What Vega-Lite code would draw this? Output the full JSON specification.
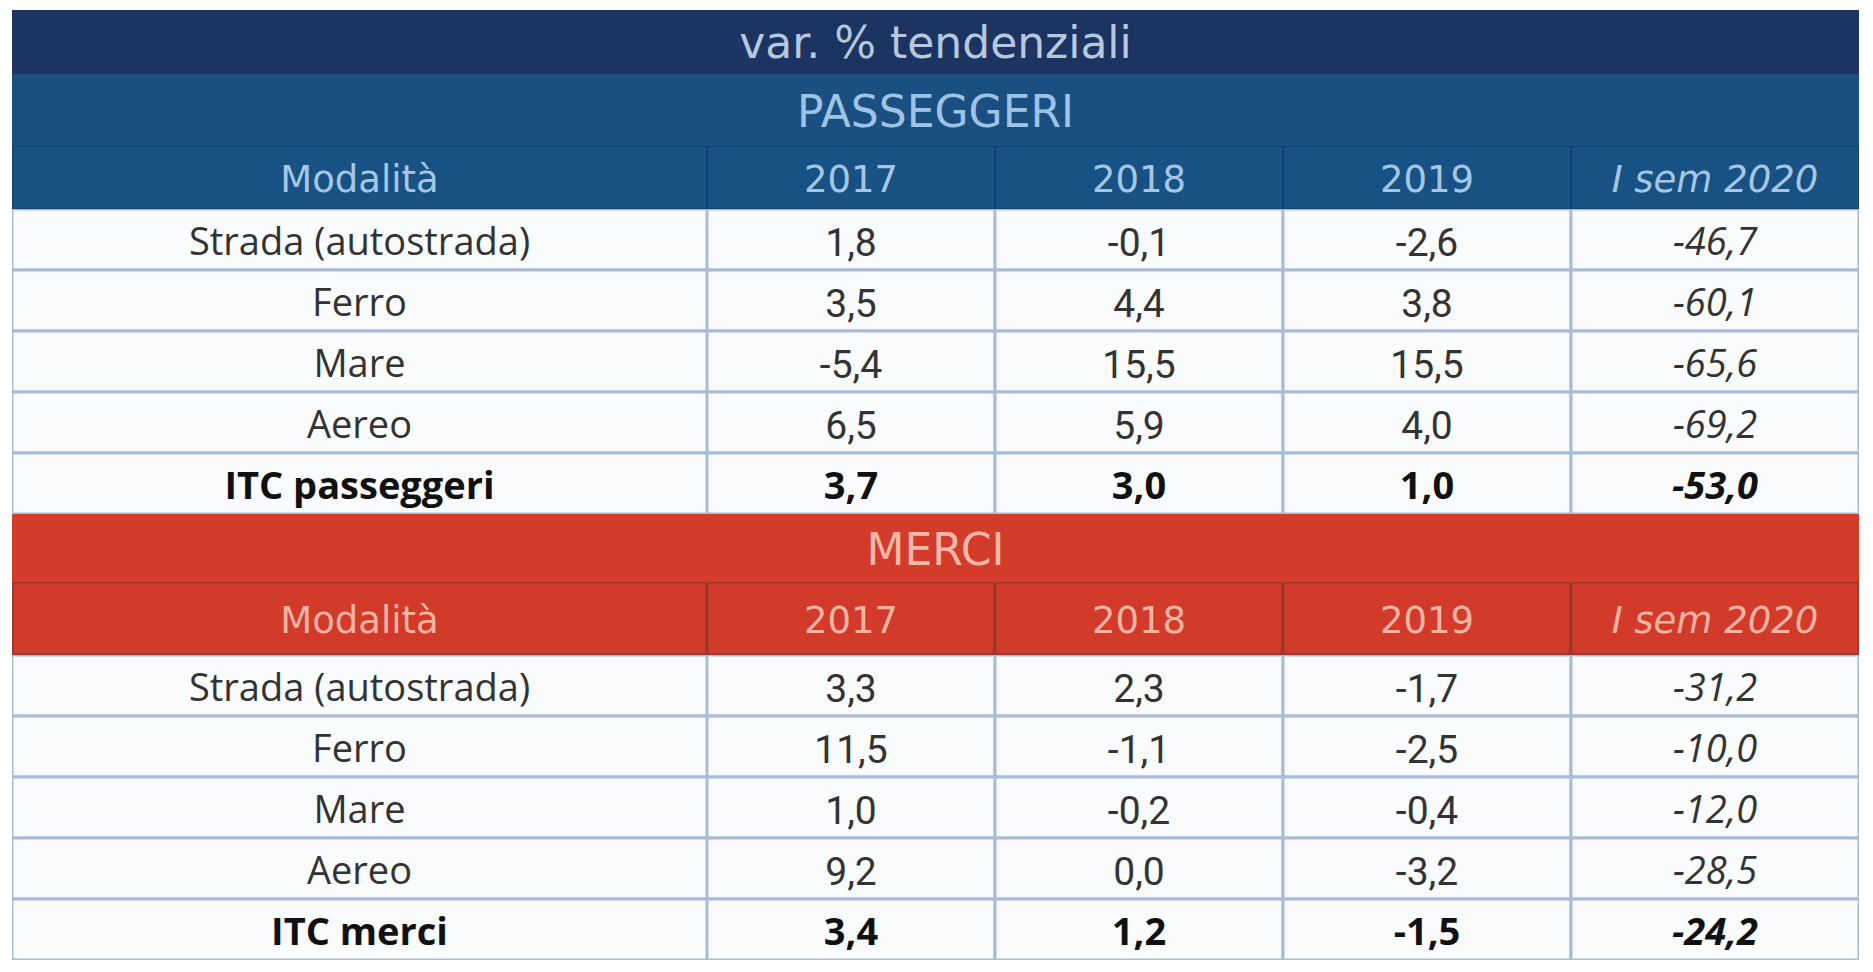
{
  "$schema": "https://vega.github.io/schema/vega-lite/v6.json",
  "background": "#ffffff",
  "padding": {"left": 12, "top": 10, "right": 0, "bottom": 0},
  "datasets": {
    "tab": [
      {"s": "P", "modo": "Strada (autostrada)", "anno": "2017", "v": 1.8},
      {"s": "P", "modo": "Strada (autostrada)", "anno": "2018", "v": -0.1},
      {"s": "P", "modo": "Strada (autostrada)", "anno": "2019", "v": -2.6},
      {"s": "P", "modo": "Strada (autostrada)", "anno": "I sem 2020", "v": -46.7},
      {"s": "P", "modo": "Ferro", "anno": "2017", "v": 3.5},
      {"s": "P", "modo": "Ferro", "anno": "2018", "v": 4.4},
      {"s": "P", "modo": "Ferro", "anno": "2019", "v": 3.8},
      {"s": "P", "modo": "Ferro", "anno": "I sem 2020", "v": -60.1},
      {"s": "P", "modo": "Mare", "anno": "2017", "v": -5.4},
      {"s": "P", "modo": "Mare", "anno": "2018", "v": 15.5},
      {"s": "P", "modo": "Mare", "anno": "2019", "v": 15.5},
      {"s": "P", "modo": "Mare", "anno": "I sem 2020", "v": -65.6},
      {"s": "P", "modo": "Aereo", "anno": "2017", "v": 6.5},
      {"s": "P", "modo": "Aereo", "anno": "2018", "v": 5.9},
      {"s": "P", "modo": "Aereo", "anno": "2019", "v": 4.0},
      {"s": "P", "modo": "Aereo", "anno": "I sem 2020", "v": -69.2},
      {"s": "P", "modo": "ITC passeggeri", "anno": "2017", "v": 3.7},
      {"s": "P", "modo": "ITC passeggeri", "anno": "2018", "v": 3.0},
      {"s": "P", "modo": "ITC passeggeri", "anno": "2019", "v": 1.0},
      {"s": "P", "modo": "ITC passeggeri", "anno": "I sem 2020", "v": -53.0},
      {"s": "M", "modo": "Strada (autostrada)", "anno": "2017", "v": 3.3},
      {"s": "M", "modo": "Strada (autostrada)", "anno": "2018", "v": 2.3},
      {"s": "M", "modo": "Strada (autostrada)", "anno": "2019", "v": -1.7},
      {"s": "M", "modo": "Strada (autostrada)", "anno": "I sem 2020", "v": -31.2},
      {"s": "M", "modo": "Ferro", "anno": "2017", "v": 11.5},
      {"s": "M", "modo": "Ferro", "anno": "2018", "v": -1.1},
      {"s": "M", "modo": "Ferro", "anno": "2019", "v": -2.5},
      {"s": "M", "modo": "Ferro", "anno": "I sem 2020", "v": -10.0},
      {"s": "M", "modo": "Mare", "anno": "2017", "v": 1.0},
      {"s": "M", "modo": "Mare", "anno": "2018", "v": -0.2},
      {"s": "M", "modo": "Mare", "anno": "2019", "v": -0.4},
      {"s": "M", "modo": "Mare", "anno": "I sem 2020", "v": -12.0},
      {"s": "M", "modo": "Aereo", "anno": "2017", "v": 9.2},
      {"s": "M", "modo": "Aereo", "anno": "2018", "v": 0.0},
      {"s": "M", "modo": "Aereo", "anno": "2019", "v": -3.2},
      {"s": "M", "modo": "Aereo", "anno": "I sem 2020", "v": -28.5},
      {"s": "M", "modo": "ITC merci", "anno": "2017", "v": 3.4},
      {"s": "M", "modo": "ITC merci", "anno": "2018", "v": 1.2},
      {"s": "M", "modo": "ITC merci", "anno": "2019", "v": -1.5},
      {"s": "M", "modo": "ITC merci", "anno": "I sem 2020", "v": -24.2}
    ],
    "anni": [{"anno": "2017"}, {"anno": "2018"}, {"anno": "2019"}, {"anno": "I sem 2020"}]
  },
  "spacing": 0,
  "vconcat": [
    {
      "width": 1847, "height": 64,
      "data": {"values": [{"t": "var. % tendenziali"}]},
      "layer": [
        {"mark": {"type": "rect", "fill": "#1c3462", "clip": true}, "encoding": {}},
        {"mark": {"type": "text", "font": "DejaVu Sans", "fontSize": 44, "fill": "#b7c8dc", "baseline": "middle", "dy": 3}, "encoding": {"text": {"field": "t"}}}
      ]
    },
    {
      "width": 1847, "height": 72,
      "data": {"values": [{"t": "PASSEGGERI"}]},
      "layer": [
        {"mark": {"type": "rect", "fill": "#1a4f81", "clip": true}, "encoding": {}},
        {"mark": {"type": "text", "font": "DejaVu Sans", "fontSize": 44, "fill": "#9ec3e5", "baseline": "middle", "dy": 4}, "encoding": {"text": {"field": "t"}}}
      ]
    },
    {
      "spacing": 0,
      "bounds": "flush",
      "hconcat": [
        {
          "width": 695, "height": 63,
          "data": {"values": [{"h": "Modalità"}]},
          "layer": [
            {"mark": {"type": "rect", "fill": "#185285", "stroke": "#123f6d", "strokeWidth": 2, "clip": true}, "encoding": {}},
            {"mark": {"type": "text", "font": "DejaVu Sans", "fontSize": 37, "fill": "#a6c7e3", "baseline": "middle", "dy": 3}, "encoding": {"text": {"field": "h"}}}
          ]
        },
        {
          "width": 1152, "height": 63,
          "data": {"name": "anni"},
          "encoding": {"x": {"field": "anno", "type": "nominal", "axis": null, "scale": {"domain": ["2017", "2018", "2019", "I sem 2020"], "paddingInner": 0, "paddingOuter": 0}}},
          "layer": [
            {"mark": {"type": "rect", "fill": "#185285", "stroke": "#123f6d", "strokeWidth": 2, "clip": true}},
            {"transform": [{"filter": "datum.anno !== 'I sem 2020'"}], "mark": {"type": "text", "font": "DejaVu Sans", "fontSize": 37, "fill": "#a6c7e3", "baseline": "middle", "dy": 3}, "encoding": {"text": {"field": "anno"}}},
            {"transform": [{"filter": "datum.anno === 'I sem 2020'"}], "mark": {"type": "text", "font": "DejaVu Sans", "fontSize": 37, "fontStyle": "italic", "fill": "#a6c7e3", "baseline": "middle", "dy": 3}, "encoding": {"text": {"field": "anno"}}}
          ]
        }
      ]
    },
    {
      "spacing": 0,
      "bounds": "flush",
      "hconcat": [
        {
          "width": 695, "height": 305,
          "data": {"name": "tab"},
          "transform": [{"filter": "datum.s === 'P' && datum.anno === '2017'"}],
          "encoding": {"y": {"field": "modo", "type": "nominal", "axis": null, "scale": {"domain": ["Strada (autostrada)", "Ferro", "Mare", "Aereo", "ITC passeggeri"], "paddingInner": 0, "paddingOuter": 0}}},
          "layer": [
            {"mark": {"type": "rect", "fill": "#fafbfd", "stroke": "#a8bcd6", "strokeWidth": 3, "clip": true}},
            {"transform": [{"filter": "indexof(datum.modo, 'ITC') !== 0"}], "mark": {"type": "text", "font": "Open Sans", "fontSize": 38, "fill": "#333333", "baseline": "middle", "dy": 4}, "encoding": {"text": {"field": "modo"}}},
            {"transform": [{"filter": "indexof(datum.modo, 'ITC') === 0"}], "mark": {"type": "text", "font": "Open Sans", "fontSize": 38, "fontWeight": "bold", "fill": "#111111", "baseline": "middle", "dy": 4}, "encoding": {"text": {"field": "modo"}}}
          ]
        },
        {
          "width": 1152, "height": 305,
          "data": {"name": "tab"},
          "transform": [{"filter": "datum.s === 'P'"}],
          "encoding": {
            "x": {"field": "anno", "type": "nominal", "axis": null, "scale": {"domain": ["2017", "2018", "2019", "I sem 2020"], "paddingInner": 0, "paddingOuter": 0}},
            "y": {"field": "modo", "type": "nominal", "axis": null, "scale": {"domain": ["Strada (autostrada)", "Ferro", "Mare", "Aereo", "ITC passeggeri"], "paddingInner": 0, "paddingOuter": 0}}
          },
          "layer": [
            {"mark": {"type": "rect", "fill": "#fafbfd", "stroke": "#a8bcd6", "strokeWidth": 3, "clip": true}},
            {"transform": [{"filter": "datum.anno !== 'I sem 2020' && indexof(datum.modo, 'ITC') !== 0"}], "mark": {"type": "text", "font": "Roboto", "fontSize": 39, "fill": "#333333", "baseline": "middle", "dy": 4}, "encoding": {"text": {"field": "v", "type": "quantitative", "format": ".1f"}}},
            {"transform": [{"filter": "datum.anno === 'I sem 2020' && indexof(datum.modo, 'ITC') !== 0"}], "mark": {"type": "text", "font": "Open Sans", "fontSize": 38, "fontStyle": "italic", "fill": "#333333", "baseline": "middle", "dy": 4}, "encoding": {"text": {"field": "v", "type": "quantitative", "format": ".1f"}}},
            {"transform": [{"filter": "datum.anno !== 'I sem 2020' && indexof(datum.modo, 'ITC') === 0"}], "mark": {"type": "text", "font": "Open Sans", "fontSize": 38, "fontWeight": "bold", "fill": "#111111", "baseline": "middle", "dy": 4}, "encoding": {"text": {"field": "v", "type": "quantitative", "format": ".1f"}}},
            {"transform": [{"filter": "datum.anno === 'I sem 2020' && indexof(datum.modo, 'ITC') === 0"}], "mark": {"type": "text", "font": "Open Sans", "fontSize": 38, "fontWeight": "bold", "fontStyle": "italic", "fill": "#111111", "baseline": "middle", "dy": 4}, "encoding": {"text": {"field": "v", "type": "quantitative", "format": ".1f"}}}
          ]
        }
      ]
    },
    {
      "width": 1847, "height": 68,
      "data": {"values": [{"t": "MERCI"}]},
      "layer": [
        {"mark": {"type": "rect", "fill": "#d33b2a", "clip": true}, "encoding": {}},
        {"mark": {"type": "text", "font": "DejaVu Sans", "fontSize": 44, "fill": "#f4b8a9", "baseline": "middle", "dy": 4}, "encoding": {"text": {"field": "t"}}}
      ]
    },
    {
      "spacing": 0,
      "bounds": "flush",
      "hconcat": [
        {
          "width": 695, "height": 73,
          "data": {"values": [{"h": "Modalità"}]},
          "layer": [
            {"mark": {"type": "rect", "fill": "#d23a29", "stroke": "#9a3530", "strokeWidth": 3, "clip": true}, "encoding": {}},
            {"mark": {"type": "text", "font": "DejaVu Sans", "fontSize": 37, "fill": "#f3b4a5", "baseline": "middle", "dy": 3}, "encoding": {"text": {"field": "h"}}}
          ]
        },
        {
          "width": 1152, "height": 73,
          "data": {"name": "anni"},
          "encoding": {"x": {"field": "anno", "type": "nominal", "axis": null, "scale": {"domain": ["2017", "2018", "2019", "I sem 2020"], "paddingInner": 0, "paddingOuter": 0}}},
          "layer": [
            {"mark": {"type": "rect", "fill": "#d23a29", "stroke": "#9a3530", "strokeWidth": 3, "clip": true}},
            {"transform": [{"filter": "datum.anno !== 'I sem 2020'"}], "mark": {"type": "text", "font": "DejaVu Sans", "fontSize": 37, "fill": "#f3b4a5", "baseline": "middle", "dy": 3}, "encoding": {"text": {"field": "anno"}}},
            {"transform": [{"filter": "datum.anno === 'I sem 2020'"}], "mark": {"type": "text", "font": "DejaVu Sans", "fontSize": 37, "fontStyle": "italic", "fill": "#f3b4a5", "baseline": "middle", "dy": 3}, "encoding": {"text": {"field": "anno"}}}
          ]
        }
      ]
    },
    {
      "spacing": 0,
      "bounds": "flush",
      "hconcat": [
        {
          "width": 695, "height": 305,
          "data": {"name": "tab"},
          "transform": [{"filter": "datum.s === 'M' && datum.anno === '2017'"}],
          "encoding": {"y": {"field": "modo", "type": "nominal", "axis": null, "scale": {"domain": ["Strada (autostrada)", "Ferro", "Mare", "Aereo", "ITC merci"], "paddingInner": 0, "paddingOuter": 0}}},
          "layer": [
            {"mark": {"type": "rect", "fill": "#fafbfd", "stroke": "#a8bcd6", "strokeWidth": 3, "clip": true}},
            {"transform": [{"filter": "indexof(datum.modo, 'ITC') !== 0"}], "mark": {"type": "text", "font": "Open Sans", "fontSize": 38, "fill": "#333333", "baseline": "middle", "dy": 4}, "encoding": {"text": {"field": "modo"}}},
            {"transform": [{"filter": "indexof(datum.modo, 'ITC') === 0"}], "mark": {"type": "text", "font": "Open Sans", "fontSize": 38, "fontWeight": "bold", "fill": "#111111", "baseline": "middle", "dy": 4}, "encoding": {"text": {"field": "modo"}}}
          ]
        },
        {
          "width": 1152, "height": 305,
          "data": {"name": "tab"},
          "transform": [{"filter": "datum.s === 'M'"}],
          "encoding": {
            "x": {"field": "anno", "type": "nominal", "axis": null, "scale": {"domain": ["2017", "2018", "2019", "I sem 2020"], "paddingInner": 0, "paddingOuter": 0}},
            "y": {"field": "modo", "type": "nominal", "axis": null, "scale": {"domain": ["Strada (autostrada)", "Ferro", "Mare", "Aereo", "ITC merci"], "paddingInner": 0, "paddingOuter": 0}}
          },
          "layer": [
            {"mark": {"type": "rect", "fill": "#fafbfd", "stroke": "#a8bcd6", "strokeWidth": 3, "clip": true}},
            {"transform": [{"filter": "datum.anno !== 'I sem 2020' && indexof(datum.modo, 'ITC') !== 0"}], "mark": {"type": "text", "font": "Roboto", "fontSize": 39, "fill": "#333333", "baseline": "middle", "dy": 4}, "encoding": {"text": {"field": "v", "type": "quantitative", "format": ".1f"}}},
            {"transform": [{"filter": "datum.anno === 'I sem 2020' && indexof(datum.modo, 'ITC') !== 0"}], "mark": {"type": "text", "font": "Open Sans", "fontSize": 38, "fontStyle": "italic", "fill": "#333333", "baseline": "middle", "dy": 4}, "encoding": {"text": {"field": "v", "type": "quantitative", "format": ".1f"}}},
            {"transform": [{"filter": "datum.anno !== 'I sem 2020' && indexof(datum.modo, 'ITC') === 0"}], "mark": {"type": "text", "font": "Open Sans", "fontSize": 38, "fontWeight": "bold", "fill": "#111111", "baseline": "middle", "dy": 4}, "encoding": {"text": {"field": "v", "type": "quantitative", "format": ".1f"}}},
            {"transform": [{"filter": "datum.anno === 'I sem 2020' && indexof(datum.modo, 'ITC') === 0"}], "mark": {"type": "text", "font": "Open Sans", "fontSize": 38, "fontWeight": "bold", "fontStyle": "italic", "fill": "#111111", "baseline": "middle", "dy": 4}, "encoding": {"text": {"field": "v", "type": "quantitative", "format": ".1f"}}}
          ]
        }
      ]
    }
  ],
  "config": {
    "view": {"stroke": null},
    "locale": {"number": {"decimal": ",", "thousands": ".", "grouping": [3], "currency": ["€", ""], "minus": "-"}}
  }
}
